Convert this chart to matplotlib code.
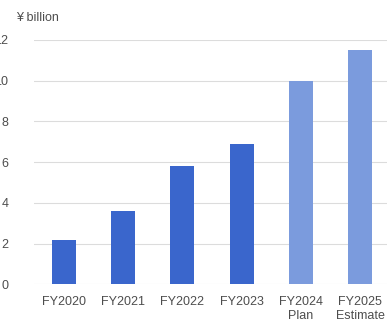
import matplotlib.pyplot as plt

plt.rcParams['font.family'] = ['Liberation Sans', 'DejaVu Sans']

years = ["FY2020", "FY2021", "FY2022", "FY2023", "FY2024\nPlan", "FY2025\nEstimate"]
values = [2.2, 3.6, 5.8, 6.9, 10.0, 11.5]
bar_colors = ["#3a66cc", "#3a66cc", "#3a66cc", "#3a66cc", "#7b9bdd", "#7b9bdd"]
y_ticks = [0, 2, 4, 6, 8, 10, 12]

fig = plt.figure(figsize=(3.87, 3.29), dpi=100)
ax = fig.add_axes([0.0879, 0.1353, 0.92, 0.7432])

x = range(len(years))
ax.bar(x, values, width=0.405, color=bar_colors, zorder=2)

ax.set_xlim(-0.5, len(years) - 0.5)
ax.set_ylim(0, 12)
ax.set_yticks(y_ticks)
ax.set_xticks(list(x))
ax.set_xticklabels(years, fontsize=9, color="#4d4d4d", linespacing=1.3)
ax.tick_params(axis="y", length=0, pad=18.5, labelsize=9, labelcolor="#4d4d4d")
ax.tick_params(axis="x", length=0, pad=8)

ax.grid(axis="y", color="#dcdcdc", linewidth=0.8, zorder=0)
for side in ["top", "right", "left", "bottom"]:
    ax.spines[side].set_visible(False)

fig.text(16 / 387, 1 - 18 / 329, "¥ billion", fontsize=9, color="#4d4d4d",
         ha="left", va="center")

fig.savefig("out.png", dpi=100)
